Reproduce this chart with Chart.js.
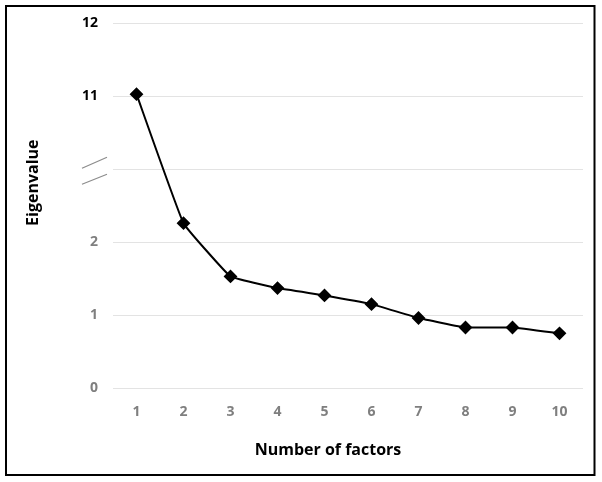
<!DOCTYPE html>
<html>
<head>
<meta charset="utf-8">
<script src="https://cdn.jsdelivr.net/npm/chart.js@4"></script>
<style>
  html, body { margin: 0; padding: 0; background: #fff; }
  #wrap { width: 602px; height: 482px; }
</style>
</head>
<body>
<div id="wrap"><canvas id="screeChart" width="602" height="482"></canvas></div>
<script>
// scree plot data
const factors = ['1', '2', '3', '4', '5', '6', '7', '8', '9', '10'];
const eigenvalues = [11.03, 2.26, 1.53, 1.37, 1.27, 1.15, 0.96, 0.83, 0.83, 0.75];
// y axis has a break between 2 and 11: axis slots 0..5
const yTickLabels = ['0', '1', '2', '', '11', '12'];

// map a real eigenvalue onto the broken axis (11 sits on slot 4)
function toAxis(v) {
  return v <= 3 ? v : v - 7;
}

let axisData = [];
for (let i = 0; i < eigenvalues.length; i++) {
  axisData[i] = toAxis(eigenvalues[i]);
}

const FONT = "'Open Sans', 'DejaVu Sans', sans-serif";
const GRAY = '#7f7f7f';

// frame, axis break marks and axis titles
const decorations = {
  id: 'decorations',
  afterDraw(chart) {
    const ctx = chart.ctx;
    const area = chart.chartArea;
    const yScale = chart.scales.y;
    ctx.save();

    // outer frame
    ctx.strokeStyle = '#000';
    ctx.lineWidth = 2;
    ctx.strokeRect(6, 6, 588.5, 469);

    // break marks on the y axis
    const yb = yScale.getPixelForValue(3);
    ctx.strokeStyle = '#8c8c8c';
    ctx.lineWidth = 1.2;
    ctx.beginPath();
    ctx.moveTo(82, yb - 1);
    ctx.lineTo(107, yb - 12);
    ctx.moveTo(82, yb + 15);
    ctx.lineTo(107, yb + 5);
    ctx.stroke();

    // axis titles
    ctx.fillStyle = '#000';
    ctx.font = 'bold 16px ' + FONT;
    ctx.textAlign = 'center';
    ctx.textBaseline = 'middle';
    ctx.fillText('Number of factors', (area.left + area.right) / 2 - 20, 450);
    ctx.translate(33, (area.top + area.bottom) / 2 - 23);
    ctx.rotate(-Math.PI / 2);
    ctx.fillText('Eigenvalue', 0, 0);
    ctx.restore();
  }
};

const screeChart = new Chart(document.getElementById('screeChart'), {
  type: 'line',
  data: {
    labels: factors,
    datasets: [{
      label: 'Eigenvalue',
      data: axisData,
      borderColor: '#000',
      backgroundColor: '#000',
      borderWidth: 2,
      tension: 0.08,
      pointStyle: 'rectRot',
      pointRadius: 5.5,
      pointHoverRadius: 5.5,
      pointBackgroundColor: '#000',
      pointBorderColor: '#000'
    }]
  },
  options: {
    responsive: false,
    animation: false,
    layout: { padding: { left: 0, right: 19, top: 22, bottom: 0 } },
    plugins: {
      legend: { display: false },
      tooltip: { enabled: false }
    },
    scales: {
      x: {
        offset: true,
        grid: { display: false, drawTicks: false },
        border: { display: false },
        ticks: {
          color: GRAY,
          padding: 16,
          font: { family: FONT, size: 14, weight: 'bold' }
        },
        afterFit(scale) { scale.height = 94; }
      },
      y: {
        min: 0,
        max: 5,
        grid: { color: '#e3e3e3', lineWidth: 1, drawTicks: false },
        border: { display: false },
        ticks: {
          stepSize: 1,
          padding: 15,
          font: { family: FONT, size: 14, weight: 'bold' },
          color: (c) => (c.tick && c.tick.value >= 4 ? '#000' : GRAY),
          callback: (v) => yTickLabels[v]
        },
        afterFit(scale) { scale.width = 113; }
      }
    }
  },
  plugins: [decorations]
});
</script>
</body>
</html>
